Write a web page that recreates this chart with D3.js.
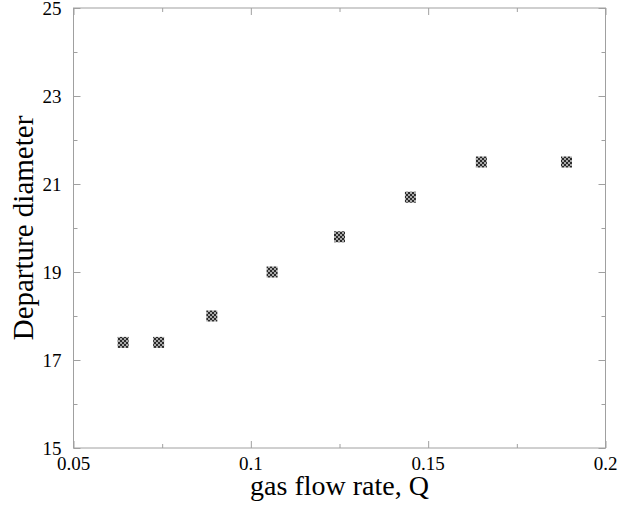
<!DOCTYPE html>
<html>
<head>
<meta charset="utf-8">
<script src="https://cdn.jsdelivr.net/npm/d3@7"></script>
<style>
  body { margin: 0; background: #fff; }
  text { font-family: "Liberation Serif", "Times New Roman", serif; }
</style>
</head>
<body>
<div id="chart"></div>
<script>
// Data
const flowRate = [0.064, 0.074, 0.089, 0.106, 0.125, 0.145, 0.165, 0.189];
const diameter = [17.4, 17.4, 18.0, 19.0, 19.8, 20.7, 21.5, 21.5];

const xMajor = [0.05, 0.1, 0.15, 0.2];
const xMinor = [0.075, 0.125, 0.175];
const yMajor = [15, 17, 19, 21, 23, 25];
const yMinor = [16, 18, 20, 22, 24];

let width = 637, height = 506;
let margin = { top: 8, bottom: 58, left: 73.5, right: 31.5 };

let svg = d3.select("#chart")
    .append("svg")
    .attr("width", width)
    .attr("height", height);

// checkered fill for the square markers
let pat = svg.append("defs").append("pattern")
    .attr("id", "checker")
    .attr("width", 4).attr("height", 4)
    .attr("patternUnits", "userSpaceOnUse");
pat.append("rect").attr("width", 4).attr("height", 4).attr("fill", "#a8a8a8");
pat.append("rect").attr("width", 2).attr("height", 2).attr("fill", "#2a2a2a");
pat.append("rect").attr("x", 2).attr("y", 2).attr("width", 2).attr("height", 2).attr("fill", "#2a2a2a");

let xScale = d3.scaleLinear()
    .domain([0.05, 0.2])
    .range([margin.left, width - margin.right]);

let yScale = d3.scaleLinear()
    .domain([15, 25])
    .range([height - margin.bottom, margin.top]);

const axisColor = "#a0a0a0";

// frame
svg.append("rect")
    .attr("x", xScale(0.05))
    .attr("y", yScale(25))
    .attr("width", xScale(0.2) - xScale(0.05))
    .attr("height", yScale(15) - yScale(25))
    .attr("fill", "none")
    .attr("stroke", axisColor)
    .attr("stroke-width", 1);

// inward ticks on all four sides
function addTicks(axisFn, scale, values, size, transform) {
    let g = svg.append("g")
        .attr("transform", transform)
        .call(axisFn(scale).tickValues(values).tickSize(size).tickFormat(""));
    g.select(".domain").remove();
    g.selectAll("line").attr("stroke", axisColor);
}
const bottomY = yScale(15), topY = yScale(25);
const leftX = xScale(0.05), rightX = xScale(0.2);

addTicks(d3.axisTop, xScale, xMajor, 7, `translate(0,${bottomY})`);
addTicks(d3.axisTop, xScale, xMinor, 4, `translate(0,${bottomY})`);
addTicks(d3.axisBottom, xScale, xMajor, 7, `translate(0,${topY})`);
addTicks(d3.axisBottom, xScale, xMinor, 4, `translate(0,${topY})`);
addTicks(d3.axisRight, yScale, yMajor, 7, `translate(${leftX},0)`);
addTicks(d3.axisRight, yScale, yMinor, 4, `translate(${leftX},0)`);
addTicks(d3.axisLeft, yScale, yMajor, 7, `translate(${rightX},0)`);
addTicks(d3.axisLeft, yScale, yMinor, 4, `translate(${rightX},0)`);

// tick labels
svg.selectAll(".xlab")
    .data(xMajor)
    .enter().append("text")
    .attr("x", d => xScale(d))
    .attr("y", bottomY + 22)
    .attr("text-anchor", "middle")
    .style("font-size", "19px")
    .text(d => d3.format("")(d));

svg.selectAll(".ylab")
    .data(yMajor)
    .enter().append("text")
    .attr("x", leftX - 12)
    .attr("y", d => yScale(d) + 7)
    .attr("text-anchor", "end")
    .style("font-size", "19px")
    .text(d => d);

// points
const size = 11;
svg.selectAll(".pt")
    .data(flowRate.map((q, i) => ({ q: q, d: diameter[i] })))
    .enter().append("rect")
    .attr("x", d => xScale(d.q) - size / 2)
    .attr("y", d => yScale(d.d) - size / 2)
    .attr("width", size)
    .attr("height", size)
    .attr("fill", "url(#checker)");

// axis titles
svg.append("text")
    .attr("x", (leftX + rightX) / 2)
    .attr("y", height - 11)
    .attr("text-anchor", "middle")
    .style("font-size", "28px")
    .text("gas flow rate, Q");

svg.append("text")
    .attr("transform", `translate(33,${(topY + bottomY) / 2}) rotate(-90)`)
    .attr("text-anchor", "middle")
    .style("font-size", "29px")
    .text("Departure diameter");
</script>
</body>
</html>
